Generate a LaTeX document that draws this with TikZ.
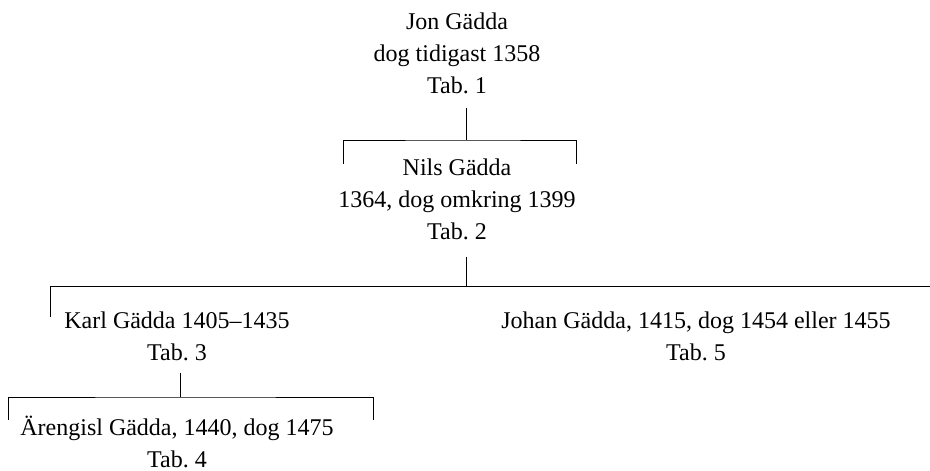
\documentclass[tikz,border=0pt]{standalone}
\usepackage{fontspec}
\setmainfont{Liberation Serif}
\frenchspacing
\usetikzlibrary{positioning}
\tikzset{
    person/.style = {align=center, inner sep=0pt, text centered, font=\fontsize{24}{32}\selectfont},
    branch/.style = {draw=black, line width=1pt}
}

\begin{document}
\begin{tikzpicture}[x=1pt, y=-1pt]
    \useasboundingbox (0,0) rectangle (930,471);
    \node [person] (jon) at (457,53) {Jon Gädda\\dog tidigast 1358\\Tab. 1};
    \node [person] (nils) at (457,199) {Nils Gädda\\1364, dog omkring 1399\\Tab. 2};
    \node [person] (karl) at (177,336) {Karl Gädda 1405--1435\\Tab. 3};
    \node [person] (johan) at (696,336) {Johan Gädda, 1415, dog 1454 eller 1455\\Tab. 5};
    \node [person] (arengisl) at (177,442) {Ärengisl Gädda, 1440, dog 1475\\Tab. 4};

    \coordinate (jonfork) at (466,140);
    \coordinate (jonleft) at (343,164);
    \coordinate (jonright) at (576,164);
    \coordinate (nilsfork) at (466,286);
    \coordinate (nilsleft) at (50,317);
    \coordinate (nilsright) at (930,286);
    \coordinate (karlfork) at (180,397);
    \coordinate (karlleft) at (8,420);
    \coordinate (karlright) at (373,420);

    \draw [branch] ([yshift=-14pt]jon.south -| jonfork) -- (jonfork);
    \draw [branch] (jonleft) |- (jonfork) -| (jonright);
    \draw [branch] ([yshift=-17pt]nils.south -| nilsfork) -- (nilsfork);
    \draw [branch] (nilsleft) |- (nilsright);
    \draw [branch] ([yshift=-12pt]karl.south -| karlfork) -- (karlfork);
    \draw [branch] (karlleft) |- (karlfork) -| (karlright);
\end{tikzpicture}
\end{document}
